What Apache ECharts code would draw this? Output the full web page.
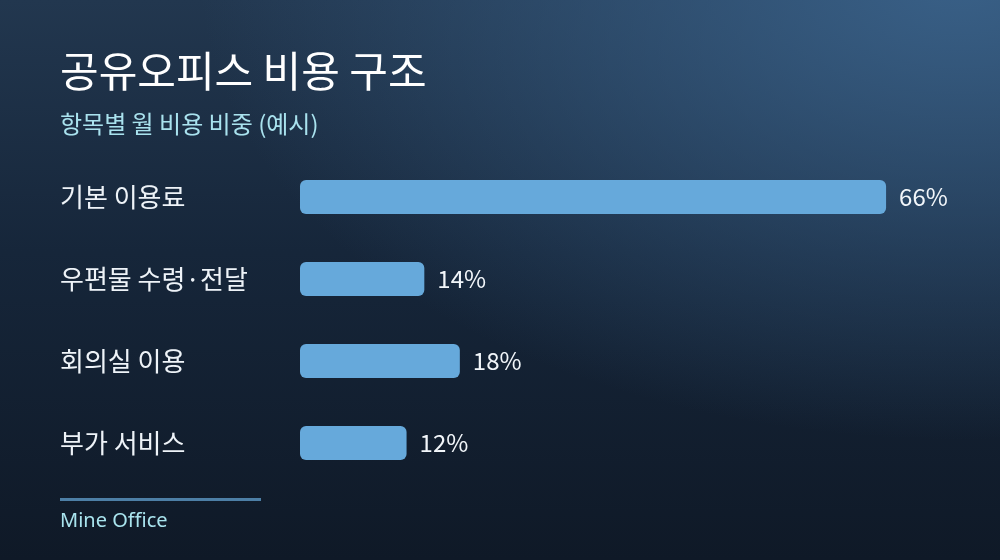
<!DOCTYPE html>
<html>
<head>
<meta charset="utf-8">
<script src="https://cdn.jsdelivr.net/npm/echarts@6/dist/echarts.min.js"></script>
<style>
  html, body { margin: 0; padding: 0; }
  body {
    width: 1000px; height: 560px; overflow: hidden;
    background:
      radial-gradient(ellipse 760px 460px at 960px -20px, rgba(58, 98, 138, 0.95), rgba(58, 98, 138, 0) 100%),
      linear-gradient(180deg, #22374f 0%, #16263a 45%, #0f1927 100%);
  }
  #chart { width: 1000px; height: 560px; }
</style>
</head>
<body>
<div id="chart"></div>
<script>
// 항목별 월 비용 비중 (%)
const categories = ["기본 이용료", "우편물 수령·전달", "회의실 이용", "부가 서비스"];
const shares = [66, 14, 18, 12];

const FONT = '"Noto Sans CJK KR", "Noto Sans", sans-serif';

const chart = echarts.init(document.getElementById("chart"), null, { renderer: "canvas" });

chart.setOption({
    backgroundColor: "transparent",
    animation: false,
    title: {
        text: "공유오피스 비용 구조",
        subtext: "항목별 월 비용 비중 (예시)",
        left: 55,
        top: 45,
        itemGap: 20,
        textStyle: {
            color: "#ffffff",
            fontFamily: FONT,
            fontSize: 42,
            fontWeight: "normal"
        },
        subtextStyle: {
            color: "#a9e2ee",
            fontFamily: FONT,
            fontSize: 24
        }
    },
    grid: {
        left: 300,
        width: 666,
        top: 156,
        height: 328
    },
    xAxis: {
        type: "value",
        min: 0,
        max: 75,
        show: false
    },
    yAxis: {
        type: "category",
        inverse: true,
        data: categories,
        axisLine: { show: false },
        axisTick: { show: false },
        splitLine: { show: false },
        axisLabel: {
            align: "left",
            margin: 240,
            color: "#eef3f8",
            fontFamily: FONT,
            fontSize: 26
        }
    },
    series: [
        {
            type: "bar",
            data: shares,
            barWidth: 34,
            itemStyle: {
                color: "#66a9db",
                borderRadius: 6
            },
            label: {
                show: true,
                position: "right",
                distance: 13,
                formatter: "{c}%",
                color: "#f2f6fa",
                fontFamily: FONT,
                fontSize: 24
            }
        }
    ],
    graphic: [
        {
            type: "rect",
            shape: { x: 60, y: 498, width: 201, height: 3 },
            style: { fill: "#4d7fa6" }
        },
        {
            type: "text",
            left: 60,
            top: 511,
            style: {
                text: "Mine Office",
                fill: "#a9e4ee",
                font: '20px "Noto Sans", sans-serif'
            }
        }
    ]
});
</script>
</body>
</html>
